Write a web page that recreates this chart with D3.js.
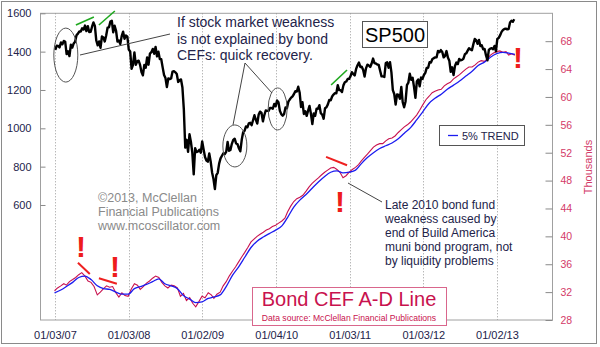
<!DOCTYPE html>
<html>
<head>
<meta charset="utf-8">
<script src="https://cdn.jsdelivr.net/npm/d3@7"></script>
<style>
  html, body { margin: 0; padding: 0; background: #fff; }
  svg { display: block; font-family: "Liberation Sans", Arial, Helvetica, sans-serif; }
</style>
</head>
<body>
<svg id="chart" width="600" height="347"></svg>
<script>
// ---- S&P 500 weekly closes (Fridays, starting 2007-01-05) ----
const spStart = "2007-01-05";
const sp2007 = [1409,1431,1430,1422, 1448,1438,1456,1451, 1387,1402,1377,1436,1421, 1443,1452,1485,1494,
                1505,1505,1522,1515, 1536,1507,1533,1502,1503, 1530,1552,1534,1458, 1433,1453,1420,1479,1474,
                1453,1484,1525,1527, 1557,1561,1501,1535, 1509,1453,1458,1440,1481, 1504,1467,1484,1478];
const sp2008 = [1411,1401,1310,1331, 1396,1331,1349,1353,1331, 1294,1276,1330,1316, 1370,1332,1390,1397,
                1414,1389,1425,1375,1400, 1361,1360,1318,1278, 1262,1215,1260,1257, 1260,1296,1298,1292,1283,
                1242,1252,1255,1213, 1099,899,940,877,969, 930,873,760,896, 876,879,888,873];
const sp2009 = [932,890,850,832,826, 869,827,770,735, 683,756,768,816, 843,857,870,866,
                877,929,883,887,919, 940,946,921,918, 896,880,940,979,987, 1010,1005,1026,1029,
                1016,1042,1068,1044, 1025,1072,1087,1080,1036, 1069,1093,1091,1091, 1106,1106,1102,1127];
const sp2010 = [1115,1145,1136,1092,1074, 1066,1075,1109,1105, 1139,1150,1160,1167, 1179,1194,1192,1217,1187,
                1111,1136,1075,1089, 1065,1092,1117,1076, 1022,1078,1065,1102,1102, 1121,1079,1071,1050,
                1105,1110,1125,1148, 1146,1166,1176,1183,1183, 1225,1199,1199,1189, 1224,1240,1244,1257,1258];
const sp2011 = [1271,1293,1283,1276, 1310,1329,1343,1320, 1321,1304,1270,1313, 1332,1328,1320,1338,1364,
                1340,1338,1333,1331, 1300,1271,1271,1268, 1340,1344,1316,1345,1292, 1199,1179,1124,1177,
                1174,1154,1216,1136,1110, 1140,1225,1238,1285, 1253,1264,1216,1159, 1244,1255,1219,1265,1258];
const sp2012 = [1278,1289,1315,1316, 1345,1343,1361,1366, 1370,1371,1404,1397,1408, 1398,1370,1378,1403,
                1369,1353,1295,1318, 1278,1325,1343,1335,1362, 1355,1357,1363,1386, 1391,1405,1418,1411,1407,
                1438,1466,1460,1441, 1461,1429,1433,1412, 1414,1380,1355,1409,1416, 1418,1413,1430,1402];
const sp2013 = [1466,1472,1486,1503, 1513,1518,1520,1516, 1518,1552,1561,1556,1569];

// ---- Bond CEF advance-decline line, thousands (1st and 16th of each month) ----
const adStartYear = 2007;
const ad2007 = [32.2,32.6, 32.9,33.2, 33.0,33.5, 33.8,34.1, 34.5,34.8, 34.3,33.6,
                33.4,32.8, 31.6,32.0, 32.5,32.9, 32.7,32.8, 31.9,31.3, 31.9,31.5];
const ad2008 = [31.4,32.4, 33.2,33.0, 32.4,32.8, 33.3,33.6, 34.0,34.3, 34.1,33.4,
                32.9,32.6, 33.0,32.9, 32.6,31.4, 31.8,30.8, 31.2,30.4, 29.9,30.6];
const ad2009 = [31.4,31.2, 31.9,31.6, 31.1,31.7, 32.0,32.9, 33.5,34.3, 35.0,35.6,
                36.3,37.0, 37.7,38.4, 39.2,39.6, 40.0,40.3, 40.6,40.9, 41.1,41.4];
const ad2010 = [41.6,41.9, 42.2,42.6, 43.5,44.3, 45.0,45.4, 45.6,45.9, 46.5,47.1,
                47.6,48.0, 48.4,48.8, 49.2,49.5, 49.8,49.9, 49.6,49.2, 48.4,48.7];
const ad2011 = [49.2,49.6, 49.9,50.3, 50.8,51.3, 51.8,52.3, 52.8,53.1, 53.3,53.3,
                53.7,54.0, 54.1,54.4, 54.9,55.3, 55.7,56.0, 56.4,56.9, 57.4,58.1];
const ad2012 = [58.9,59.6, 60.1,60.6, 60.8,61.0, 61.1,61.6, 61.9,62.1, 62.6,62.9,
                63.2,63.6, 64.0,64.3, 64.3,64.6, 65.0,65.2, 65.1,65.5, 66.0,66.3];
const ad2013 = [66.5,66.6, 66.4,66.5, 66.0,66.2, 66.0];

// ---- 5% trend of the A-D line, thousands (1st of each month) ----
const trend2007 = [31.9,32.3,32.8,33.4,34.1,34.3,33.8,32.9,32.5,32.4,32.0,31.7];
const trend2008 = [31.7,32.5,32.8,33.1,33.5,33.9,33.2,32.9,32.5,31.5,31.0,30.5];
const trend2009 = [30.6,31.1,31.3,31.6,32.8,34.4,35.6,37.0,38.4,39.3,39.9,40.4];
const trend2010 = [40.9,41.5,42.7,44.2,45.2,46.0,46.9,47.8,48.6,49.2,49.4,49.1];
const trend2011 = [49.2,49.5,50.4,51.3,52.0,52.6,53.0,53.4,54.0,54.8,55.6,56.7];
const trend2012 = [57.9,59.1,59.8,60.4,61.1,61.7,62.3,63.0,63.7,64.5,65.0,65.7];
const trend2013 = [66.2,66.4,66.3,66.1];

// ---- Axes ----
const xTickDates  = ["2007-01-03","2008-01-03","2009-01-02","2010-01-04","2011-01-03","2012-01-03","2013-01-02"];
const xTickLabels = ["01/03/07","01/03/08","01/02/09","01/04/10","01/03/11","01/03/12","01/02/13"];
const spTicks = [600, 800, 1000, 1200, 1400, 1600];
const adTicks = [28, 32, 36, 40, 44, 48, 52, 56, 60, 64, 68];

const parse = d3.timeParse("%Y-%m-%d");

const spSeries = [].concat(sp2007, sp2008, sp2009, sp2010, sp2011, sp2012, sp2013)
  .map((v, i) => ({ date: d3.timeDay.offset(parse(spStart), 7 * i), value: v }));
const adSeries = [].concat(ad2007, ad2008, ad2009, ad2010, ad2011, ad2012, ad2013)
  .map((v, i) => ({ date: new Date(adStartYear, Math.floor(i / 2), i % 2 ? 16 : 1), value: v }));
const trendSeries = [].concat(trend2007, trend2008, trend2009, trend2010, trend2011, trend2012, trend2013)
  .map((v, i) => ({ date: new Date(adStartYear, i, 1), value: v }));

const plot = { left: 40, right: 552, top: 13.3, bottom: 320 };

const x = d3.scaleTime()
  .domain([new Date(2006, 9, 21), new Date(2013, 9, 2)])
  .range([plot.left, plot.right]);
const ySP = d3.scaleLinear().domain([0, 1600]).range([plot.bottom, plot.top]);
const yAD = d3.scaleLinear().domain([28, 72]).range([plot.bottom, plot.top]);

const svg = d3.select("#chart");

const navy = "#23234a";
const crimson = "#c8124e";
const pink = "#d33a68";

// outer frame
svg.append("rect").attr("x", 1.5).attr("y", 1.5).attr("width", 595).attr("height", 342)
  .attr("fill", "#fff").attr("stroke", "#8a8a8a");

// plot frame
svg.append("rect")
  .attr("x", plot.left + 0.5).attr("y", plot.top)
  .attr("width", plot.right - plot.left).attr("height", plot.bottom - plot.top)
  .attr("fill", "none").attr("stroke", "#a0a0a0");

// vertical dotted grid
svg.append("g").selectAll("line").data(xTickDates).join("line")
  .attr("x1", d => Math.round(x(parse(d))) + 0.5).attr("x2", d => Math.round(x(parse(d))) + 0.5)
  .attr("y1", plot.top).attr("y2", plot.bottom)
  .attr("stroke", "#9a9a9a").attr("stroke-dasharray", "1,2");

// left axis (S&P 500)
const gLeft = svg.append("g").attr("transform", `translate(${plot.left + 0.5},0)`)
  .call(d3.axisLeft(ySP).tickValues(spTicks).tickFormat(d3.format("d")).tickSize(-5).tickPadding(9));
gLeft.select(".domain").remove();
gLeft.selectAll("line").attr("stroke", "#8a8a8a");
gLeft.selectAll("text").attr("fill", navy).style("font-size", "11px")
  .style("font-family", "'Liberation Sans', Arial, sans-serif");

// right axis (A-D line, thousands)
const gRight = svg.append("g").attr("transform", `translate(${plot.right + 0.5},0)`)
  .call(d3.axisRight(yAD).tickValues(adTicks).tickFormat(d3.format("d")).tickSize(-7).tickPadding(8));
gRight.select(".domain").remove();
gRight.selectAll("line").attr("stroke", "#8a8a8a");
gRight.selectAll("text").attr("fill", pink).style("font-size", "10.5px")
  .style("font-family", "'Liberation Sans', Arial, sans-serif");

svg.append("text")
  .attr("transform", `translate(${plot.right + 40},167) rotate(-90)`)
  .attr("text-anchor", "middle").attr("fill", pink)
  .style("font-size", "11px").text("Thousands");

// bottom axis
const gBottom = svg.append("g").attr("transform", `translate(0,${plot.bottom})`)
  .call(d3.axisBottom(x).tickValues(xTickDates.map(parse))
    .tickFormat((d, i) => xTickLabels[i]).tickSize(0).tickPadding(11));
gBottom.select(".domain").remove();
gBottom.selectAll("text").attr("fill", navy).style("font-size", "11px")
  .style("font-family", "'Liberation Sans', Arial, sans-serif");

// A-D line and its trend
svg.append("path").datum(adSeries)
  .attr("fill", "none").attr("stroke", crimson).attr("stroke-width", 1.1)
  .attr("d", d3.line().x(d => x(d.date)).y(d => yAD(d.value)));
svg.append("path").datum(trendSeries)
  .attr("fill", "none").attr("stroke", "#1c1cf0").attr("stroke-width", 1.3)
  .attr("d", d3.line().curve(d3.curveMonotoneX).x(d => x(d.date)).y(d => yAD(d.value)));

// S&P 500
svg.append("path").datum(spSeries)
  .attr("fill", "none").attr("stroke", "#000").attr("stroke-width", 2.4)
  .attr("stroke-linejoin", "round")
  .attr("d", d3.line().x(d => x(d.date)).y(d => ySP(d.value)));

// ---- annotations ----
const ovals = [
  { date: "2007-02-26", value: 1382, rx: 12, ry: 27 },
  { date: "2009-06-13", value: 908, rx: 12, ry: 21 },
  { date: "2010-01-11", value: 1101, rx: 9.5, ry: 21 }
];
svg.append("g").selectAll("ellipse").data(ovals).join("ellipse")
  .attr("cx", d => x(parse(d.date))).attr("cy", d => ySP(d.value))
  .attr("rx", d => d.rx).attr("ry", d => d.ry)
  .attr("fill", "none").attr("stroke", "#555").attr("stroke-width", 1);

const leaders = [
  [[80, 55], [170, 34]],
  [[245, 63], [233, 125]],
  [[245, 63], [272, 93]],
  [[348, 183], [382, 202]]
];
svg.append("g").selectAll("line").data(leaders).join("line")
  .attr("x1", d => d[0][0]).attr("y1", d => d[0][1])
  .attr("x2", d => d[1][0]).attr("y2", d => d[1][1])
  .attr("stroke", "#444").attr("stroke-width", 1);

// rising S&P tops (green) and falling A-D tops (red)
const spSlopes = [
  [["2007-04-17", 1539], ["2007-07-15", 1581]],
  [["2007-08-09", 1539], ["2007-10-27", 1612]],
  [["2010-10-03", 1226], ["2010-12-21", 1304]]
];
svg.append("g").selectAll("line").data(spSlopes).join("line")
  .attr("x1", d => x(parse(d[0][0]))).attr("y1", d => ySP(d[0][1]))
  .attr("x2", d => x(parse(d[1][0]))).attr("y2", d => ySP(d[1][1]))
  .attr("stroke", "#1fa81f").attr("stroke-width", 1.6);

const adSlopes = [
  [["2007-04-27", 36.2], ["2007-06-25", 34.6]],
  [["2007-08-09", 34.0], ["2007-11-06", 33.2]],
  [["2010-09-08", 51.4], ["2010-12-21", 50.2]]
];
svg.append("g").selectAll("line").data(adSlopes).join("line")
  .attr("x1", d => x(parse(d[0][0]))).attr("y1", d => yAD(d[0][1]))
  .attr("x2", d => x(parse(d[1][0]))).attr("y2", d => yAD(d[1][1]))
  .attr("stroke", "#ee2020").attr("stroke-width", 2);

// warning marks
const bangs = [[81, 257], [115, 277], [340, 212], [518, 68]];
svg.append("g").selectAll("text").data(bangs).join("text")
  .attr("x", d => d[0]).attr("y", d => d[1])
  .attr("text-anchor", "middle").attr("fill", "#ee1c1c")
  .style("font-size", "30px").style("font-weight", "bold").text("!");

// explanatory notes
function block(lines, x0, y0, dy, size, color) {
  const t = svg.append("text").attr("fill", color).style("font-size", size + "px");
  lines.forEach((s, i) => t.append("tspan").attr("x", x0).attr("y", y0 + i * dy).text(s));
}
block(["If stock market weakness", "is not explained by bond", "CEFs: quick recovery."],
      177, 27, 16.5, 14, navy);
block(["Late 2010 bond fund", "weakness caused by", "end of Build America",
       "muni bond program, not", "by liquidity problems"], 385, 209, 13.9, 12, navy);
block(["\u00A92013, McClellan", "Financial Publications", "www.mcoscillator.com"],
      98, 202, 14, 12.5, "#8a8a8a");

// SP500 label box
svg.append("rect").attr("x", 362.5).attr("y", 21.5).attr("width", 65).attr("height", 26)
  .attr("fill", "#fff").attr("stroke", "#555");
svg.append("text").attr("x", 395).attr("y", 42).attr("text-anchor", "middle")
  .attr("fill", "#000").style("font-size", "20px").text("SP500");

// legend
svg.append("rect").attr("x", 439.5).attr("y", 125.5).attr("width", 85).attr("height", 20)
  .attr("fill", "#fff").attr("stroke", "#555");
svg.append("line").attr("x1", 448).attr("x2", 458).attr("y1", 135.5).attr("y2", 135.5)
  .attr("stroke", "#1c1cf0").attr("stroke-width", 1.3);
svg.append("text").attr("x", 462).attr("y", 139.5).attr("fill", navy)
  .style("font-size", "11px").text("5% TREND");

// title box
svg.append("rect").attr("x", 252.5).attr("y", 287.5).attr("width", 194).attr("height", 38)
  .attr("fill", "#fff").attr("stroke", "#d9668c");
svg.append("text").attr("x", 349).attr("y", 306).attr("text-anchor", "middle")
  .attr("fill", crimson).style("font-size", "20px").text("Bond CEF A-D Line");
svg.append("text").attr("x", 349).attr("y", 321).attr("text-anchor", "middle")
  .attr("fill", crimson).style("font-size", "8.6px").text("Data source: McClellan Financial Publications");
</script>
</body>
</html>
